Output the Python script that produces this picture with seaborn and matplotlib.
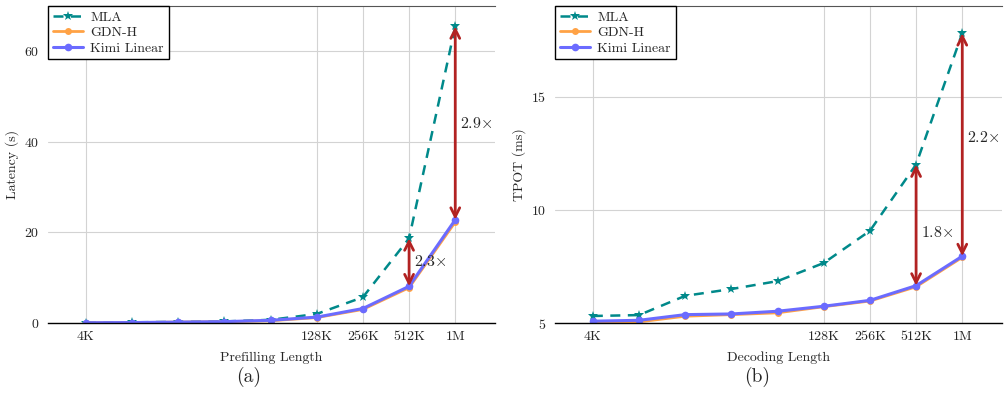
import numpy as np
import pandas as pd
import matplotlib
matplotlib.use("Agg")
import matplotlib.pyplot as plt
import seaborn as sns

# sequence lengths in K tokens
lengths = [4, 8, 16, 32, 64, 128, 256, 512, 1024]
tick_vals = [4, 128, 256, 512, 1024]
tick_labels = ["4K", "128K", "256K", "512K", "1M"]

# prefilling latency (s)
prefill_mla = [0.1, 0.15, 0.25, 0.35, 0.7, 2.0, 5.7, 18.7, 65.5]
prefill_gdn = [0.05, 0.1, 0.2, 0.28, 0.5, 1.2, 3.0, 7.8, 22.3]
prefill_kimi = [0.06, 0.1, 0.2, 0.3, 0.6, 1.3, 3.2, 8.1, 22.8]

# decoding TPOT (ms)
decode_mla = [5.31, 5.35, 6.2, 6.5, 6.85, 7.65, 9.07, 12.0, 17.8]
decode_gdn = [5.02, 5.05, 5.3, 5.37, 5.45, 5.72, 5.97, 6.6, 7.9]
decode_kimi = [5.08, 5.12, 5.37, 5.4, 5.52, 5.74, 6.0, 6.65, 7.95]

# speedup annotations: (length, ratio text, label y)
prefill_gaps = [(512, "2.3", 13.5), (1024, "2.9", 44.0)]
decode_gaps = [(512, "1.8", 9.0), (1024, "2.2", 13.2)]

sns.set_style("white")
plt.rcParams["font.family"] = "serif"
plt.rcParams["font.serif"] = ["cmr10", "DejaVu Serif"]
plt.rcParams["mathtext.fontset"] = "cm"
plt.rcParams["axes.formatter.use_mathtext"] = True

c_mla = "#00898A"
c_gdn = "#FFA245"
c_kimi = "#6B6BFF"
c_arrow = "#B22222"

fig = plt.figure(figsize=(10.05, 4.17), dpi=100)
ax1 = fig.add_axes([0.0478, 0.2254, 0.4447, 0.7602])
ax2 = fig.add_axes([0.5522, 0.2254, 0.4448, 0.7602])


def draw(ax, mla, gdn, kimi, gaps, ylim, yticks, ylabel, xlabel):
    sns.lineplot(x=lengths, y=mla, ax=ax, color=c_mla, lw=1.8, linestyle=(0, (4, 3)),
                 marker="*", markersize=7, markeredgewidth=0, label="MLA")
    sns.lineplot(x=lengths, y=gdn, ax=ax, color=c_gdn, lw=2.0,
                 marker="o", markersize=5, markeredgewidth=0, label="GDN-H")
    sns.lineplot(x=lengths, y=kimi, ax=ax, color=c_kimi, lw=2.2,
                 marker="o", markersize=5.5, markeredgewidth=0, label="Kimi Linear")
    ax.set_xscale("log", base=2)
    ax.set_xlim(2 ** 1.18, 2 ** 10.86)
    ax.set_xticks(tick_vals)
    ax.set_xticklabels(tick_labels)
    ax.xaxis.set_minor_locator(matplotlib.ticker.NullLocator())
    ax.set_ylim(*ylim)
    ax.set_yticks(yticks)
    ax.grid(True, color="#d3d3d3", lw=0.8)
    ax.set_axisbelow(True)
    for s in ["left", "right"]:
        ax.spines[s].set_visible(False)
    ax.spines["top"].set_color("#555555")
    ax.spines["top"].set_linewidth(0.8)
    ax.spines["bottom"].set_color("black")
    ax.spines["bottom"].set_linewidth(1.0)
    ax.tick_params(axis="both", labelsize=10, length=0, pad=6)
    ax.set_ylabel(ylabel, fontsize=10)
    ax.set_xlabel(xlabel, fontsize=10, labelpad=6)

    for L, txt, ty in gaps:
        i = lengths.index(L)
        ax.annotate("", xy=(L, mla[i]), xytext=(L, kimi[i]),
                    arrowprops=dict(arrowstyle="<->", color=c_arrow, lw=2,
                                    shrinkA=0, shrinkB=0, mutation_scale=16))
        ax.text(L * 1.07, ty, txt + r"$\times$", fontsize=11.5, va="center", ha="left")

    leg = ax.legend(loc="upper left", fontsize=10, frameon=True, fancybox=False,
                    edgecolor="black", framealpha=1, borderaxespad=0.0,
                    handlelength=2.2, labelspacing=0.2, borderpad=0.35,
                    handletextpad=0.5)
    leg.get_frame().set_linewidth(1.0)


draw(ax1, prefill_mla, prefill_gdn, prefill_kimi, prefill_gaps,
     (0, 70), [0, 20, 40, 60], "Latency (s)", "Prefilling Length")
draw(ax2, decode_mla, decode_gdn, decode_kimi, decode_gaps,
     (5, 19), [5, 10, 15], "TPOT (ms)", "Decoding Length")

fig.text(0.2475, 0.095, "(a)", fontsize=14, ha="center", va="center")
fig.text(0.753, 0.095, "(b)", fontsize=14, ha="center", va="center")

fig.savefig("out.png", dpi=100)
